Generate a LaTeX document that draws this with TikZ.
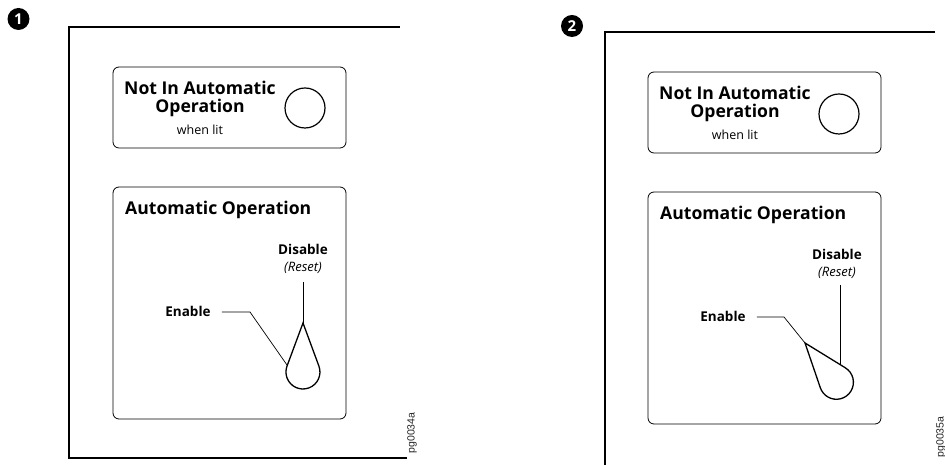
\documentclass[tikz,border=0pt]{standalone}
\usepackage{fontspec}
\setmainfont{Open Sans}
\newfontfamily\tagfont{Liberation Sans}
\usetikzlibrary{calc}

\tikzset{
  frameline/.style={line width=2.6pt},
  panelbox/.style={line width=0.8pt, rounded corners=6pt},
  lamp/.style={line width=1.2pt},
  leader/.style={line width=0.7pt},
  handle/.style={line width=1.3pt},
  badge/.style={circle, fill=black, text=white, inner sep=0pt, minimum size=22pt,
    font=\bfseries\fontsize{15}{15}\selectfont},
  title/.style={font=\bfseries\fontsize{17.6}{18}\selectfont, inner sep=0pt, anchor=base},
  smalltxt/.style={font=\fontsize{12.5}{13}\selectfont, inner sep=0pt, anchor=base},
  switchtxt/.style={font=\bfseries\fontsize{13.5}{14}\selectfont, inner sep=0pt, anchor=base},
  resettxt/.style={font=\itshape\fontsize{13}{13}\selectfont, inner sep=0pt, anchor=base},
  figtag/.style={font=\tagfont\fontsize{10.5}{11}\selectfont, rotate=90, inner sep=0pt, text=black!85}
}

\begin{document}
\begin{tikzpicture}[x=1pt, y=1pt]
  \useasboundingbox (0,0) rectangle (945,465);
  \clip (0,0) rectangle (945,465);

  % first panel
  \node[badge] (nA) at (18.5,446) {1};
  \coordinate (fA1) at (400,438);
  \coordinate (fA2) at (69,438);
  \coordinate (fA3) at (69,7);
  \coordinate (fA4) at (407,7);
  \draw[frameline] (fA1) -- (fA2) -- (fA3) -- (fA4);
  \draw[panelbox] (113,398) rectangle (346,317);
  \node[lamp, draw, circle, minimum size=40pt, inner sep=0pt] (lampA) at (305,357) {};
  \node[title] (notA) at (200,370) {Not In Automatic};
  \node[title] (opA) at (200,352) {Operation};
  \node[smalltxt] (litA) at (200,330) {when lit};
  \draw[panelbox] (113,278) rectangle (346,46);
  \node[title, anchor=base west] (autoA) at (125,250) {Automatic Operation};
  \node[switchtxt] (disA) at (303,210) {Disable};
  \node[resettxt] (resA) at (303,193) {(Reset)};
  \node[switchtxt] (enA) at (188,148) {Enable};
  \coordinate (tipA) at (303,142);
  \coordinate (bendA) at (250,153);
  \coordinate (sideA) at (287,100);
  \begin{scope}[shift={(tipA)}]
    \draw[handle] (0,0) -- (15.9,-43.1) arc[start angle=20.3, end angle=-200.3, radius=17] -- cycle;
  \end{scope}
  \draw[leader] ($(resA.base)+(0,-10)$) -- (tipA);
  \draw[leader] ($(enA.east)+(11,0)$) -- (bendA) -- (sideA);
  \node[figtag] (tagA) at (412,32) {pg0034a};

  % second panel
  \node[badge] (nB) at (572,439) {2};
  \coordinate (fB1) at (935,433);
  \coordinate (fB2) at (605,433);
  \coordinate (fB3) at (605,-5);
  \draw[frameline] (fB1) -- (fB2) -- (fB3);
  \draw[panelbox] (648,393) rectangle (881,312);
  \node[lamp, draw, circle, minimum size=40pt, inner sep=0pt] (lampB) at (839,351) {};
  \node[title] (notB) at (735,365) {Not In Automatic};
  \node[title] (opB) at (735,347) {Operation};
  \node[smalltxt] (litB) at (735,325) {when lit};
  \draw[panelbox] (648,273) rectangle (881,41);
  \node[title, anchor=base west] (autoB) at (660,245) {Automatic Operation};
  \node[switchtxt] (disB) at (837,205) {Disable};
  \node[resettxt] (resB) at (837,188) {(Reset)};
  \node[switchtxt] (enB) at (723,143) {Enable};
  \coordinate (tipB) at (805,122);
  \coordinate (bendB) at (784,148);
  \coordinate (sideB) at (840,101);
  \begin{scope}[shift={(tipB)}, rotate=38.7]
    \draw[handle] (0,0) -- (15.9,-44.4) arc[start angle=20.3, end angle=-200.3, radius=17] -- cycle;
  \end{scope}
  \draw[leader] ($(resB.base)+(3,-8)$) -- (sideB);
  \draw[leader] ($(enB.east)+(11,0)$) -- (bendB) -- (tipB);
  \node[figtag] (tagB) at (941,28) {pg0035a};
\end{tikzpicture}
\end{document}
